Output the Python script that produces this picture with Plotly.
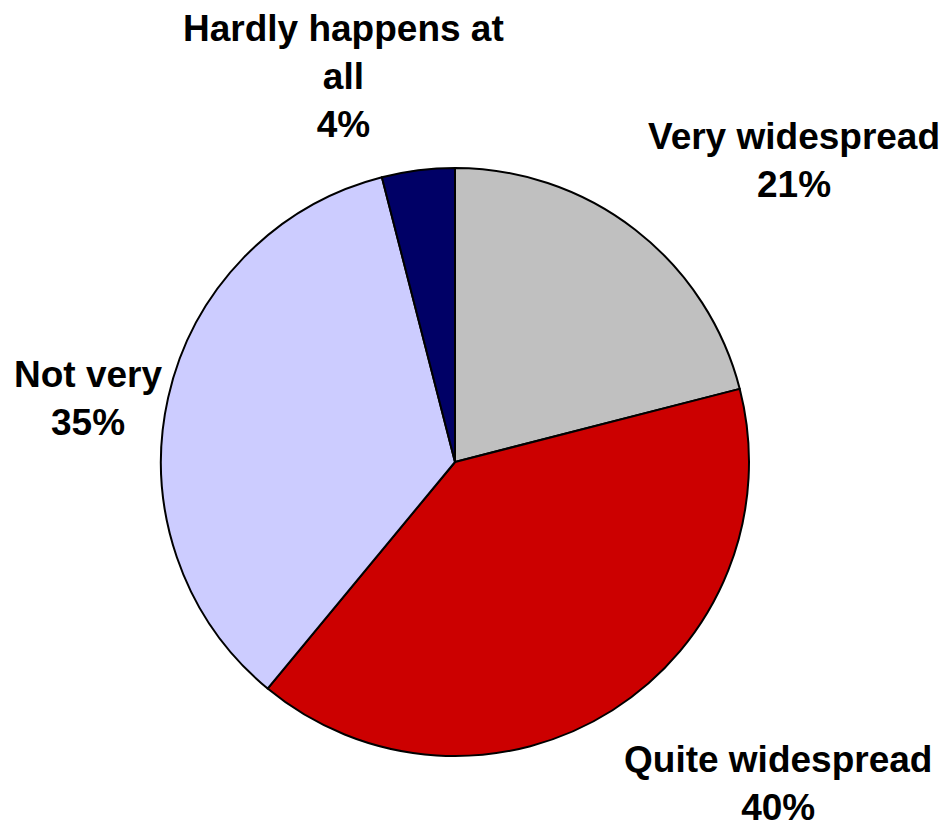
import plotly.graph_objects as go

# Survey answers, clockwise from 12 o'clock
labels = ["Very widespread", "Quite widespread", "Not very", "Hardly happens at<br>all"]
values = [21, 40, 35, 4]
colors = ["#C0C0C0", "#CC0000", "#CCCCFF", "#000066"]

# label anchor points in page pixels (x, y from top)
label_pos = [(794, 161), (778, 783), (88, 398), (343, 77)]

W, H = 949, 821
PAD = 8  # page body margin pushes the figure right/down
cx, cy, r = 455 - PAD, 462 - PAD, 294

fig = go.Figure(go.Pie(
    labels=labels,
    values=values,
    sort=False,
    direction="clockwise",
    rotation=0,
    marker=dict(colors=colors, line=dict(color="black", width=2)),
    textinfo="none",
    hoverinfo="skip",
    showlegend=False,
    domain=dict(x=[(cx - r) / W, (cx + r) / W],
                y=[(H - cy - r) / H, (H - cy + r) / H]),
))

total = sum(values)
for lab, val, (px, py) in zip(labels, values, label_pos):
    fig.add_annotation(
        x=(px - PAD) / W, y=1 - (py - PAD) / H, xref="paper", yref="paper",
        xanchor="center", yanchor="middle",
        text=f"{lab}<br>{round(100 * val / total)}%",
        showarrow=False, align="center",
        font=dict(family="Liberation Sans, Arial", size=37, color="black", weight="bold"),
    )

fig.update_layout(
    width=W, height=H,
    margin=dict(l=0, r=0, t=0, b=0),
    paper_bgcolor="white",
    plot_bgcolor="white",
)

fig.write_html("out.html")
